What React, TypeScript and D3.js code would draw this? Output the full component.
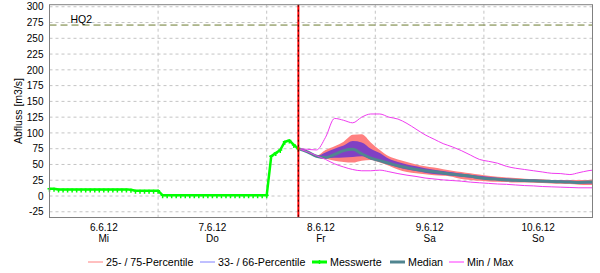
import React from "react";
import * as d3 from "d3";

// ---- data ----
const START = new Date(2012, 5, 6, 0, 0);
const END = new Date(2012, 5, 11, 0, 0);
const NOW = new Date(2012, 5, 8, 7, 0);
const HQ2 = 271;

const Y_TICKS = [-25, 0, 25, 50, 75, 100, 125, 150, 175, 200, 225, 250, 275, 300];
const DAY_LABELS = ["6.6.12", "7.6.12", "8.6.12", "9.6.12", "10.6.12"];
const WEEKDAYS = ["Mi", "Do", "Fr", "Sa", "So"];

// hourly measured values from 6.6.12 00:00
const measured = [
  11.5, 11.5, 10.5, 10.5, 10.5, 10.5, 10.5, 10.5, 10.5, 10.5, 10.5, 10.5, 10.5, 10.5, 10.5, 10.5, 10.5, 10.5, 10, 8.5, 8.5, 8.5, 8.5, 8.5,
  8.5, 1, 1, 1, 1, 1, 1, 1, 1, 1, 1, 1, 1, 1, 1, 1, 1, 1, 1, 1, 1, 1, 1, 1,
  1, 63, 68, 73, 86, 88, 81, 75,
];

// forecast: hours after 8.6.12 07:00
const fcHours = [0, 2, 4, 6, 8, 10, 12, 14, 16, 18, 20, 22, 24, 26, 28, 30, 32, 34, 36, 38, 40, 42, 44, 46, 48, 50, 52, 54, 56, 58, 60, 62, 64, 65];
const fcMax = [75, 74, 73, 93, 123, 120, 116, 125, 130, 130, 125, 122, 115, 106, 97, 90, 83, 78, 72, 65, 58, 55, 52, 47, 44, 42, 40, 38, 36, 35.5, 34, 37, 40, 41];
const fcMin = [75, 70, 64, 58, 51, 46, 42, 40, 40, 41, 38.5, 35.5, 33, 31, 28.5, 27, 25.5, 24.5, 23.5, 22, 21, 20, 19, 18.5, 17.5, 16.5, 16, 15, 14.5, 14, 13.5, 13, 13, 13];
const fcMedian = [75, 70, 63, 61, 66, 72, 74, 67, 60, 56, 52, 48, 45, 42, 40, 38.5, 36.5, 34.5, 33, 31.5, 29, 27.5, 26.5, 25.5, 25, 24.5, 24, 23.5, 23, 22.5, 22, 21.5, 22, 22];
const fcP25 = [75, 70, 62, 59, 56, 54, 53, 56, 57, 53, 48, 42, 38, 36, 34.5, 33, 32, 30.6, 27, 25.5, 24, 23, 22.5, 22, 21.5, 21.5, 21, 20.5, 20, 19.5, 19, 18, 17.5, 17.5];
const fcP33 = [75, 70, 62.5, 60, 60.5, 61, 62, 63, 58, 54.5, 49.5, 45.5, 42, 39.5, 37, 35, 33.5, 32, 30.5, 29, 27.5, 26, 25, 24, 23.5, 23, 22.5, 22, 21.5, 21, 20.5, 20, 20, 20];
const fcP66 = [75, 70, 63.5, 69, 75, 80, 87, 85, 75, 68, 59, 54, 50, 47, 44, 41.5, 39.5, 37.5, 35.5, 33.5, 32, 30.5, 29, 28, 27, 26.5, 26, 25.5, 25, 24.5, 24, 23.5, 23.5, 23.5];
const fcP75 = [75, 70, 64, 73, 79, 86, 97, 98, 85, 73, 63, 58, 54, 50, 47, 45, 42.5, 40, 38, 36, 34, 32, 30.5, 29.5, 28.5, 27.5, 27, 26.5, 25.5, 25.5, 25.5, 25.5, 25.5, 26];

const LEGEND = [
  { label: "25- / 75-Percentile", color: "#ff8080", width: 1, marker: false },
  { label: "33- / 66-Percentile", color: "#8080ff", width: 1, marker: false },
  { label: "Messwerte", color: "#00ff00", width: 3, marker: true },
  { label: "Median", color: "#508590", width: 3, marker: false },
  { label: "Min / Max", color: "#ff33ff", width: 1, marker: false },
];

const FONT = "'Liberation Sans', Arial, sans-serif";

export default function App() {
  const W = 600, H = 273;
  const L = 49.5, R = 592.5, T = 4.7, B = 217.5;
  const x = d3.scaleTime().domain([START, END]).range([L, R]);
  const y = d3.scaleLinear().domain([0, 250]).range([196, 38.3]);

  const hour = 3600 * 1000;
  const mPts = measured.map((v, i) => ({ t: new Date(START.getTime() + i * hour), v }));
  const fc = fcHours.map((h, i) => ({
    t: new Date(NOW.getTime() + h * hour),
    max: fcMax[i], min: fcMin[i], med: fcMedian[i],
    p25: fcP25[i], p33: fcP33[i], p66: fcP66[i], p75: fcP75[i],
  }));

  const curve = d3.curveMonotoneX;
  const area2575 = d3.area<any>().x(d => x(d.t)).y0(d => y(d.p25)).y1(d => y(d.p75)).curve(curve)(fc) || "";
  const area3366 = d3.area<any>().x(d => x(d.t)).y0(d => y(d.p33)).y1(d => y(d.p66)).curve(curve)(fc) || "";
  const lineOf = (key: string) => d3.line<any>().x(d => x(d.t)).y(d => y(d[key])).curve(curve)(fc) || "";
  const mLine = d3.line<any>().x(d => x(d.t)).y(d => y(d.v))(mPts) || "";

  const days = d3.timeDay.range(START, d3.timeDay.offset(END, 1));
  const midDays = d3.timeDay.range(START, END);

  const legendX = [88, 200, 312, 390, 449];

  return (
    <svg width={W} height={H} style={{ position: "absolute", left: 0, top: 0, background: "#fff" }} fontFamily={FONT}>
      <rect x={0} y={0} width={W} height={H} fill="#fff" />
      {/* grid */}
      {Y_TICKS.map(v => (
        <line key={"gy" + v} x1={L} x2={R} y1={y(v)} y2={y(v)} stroke="#c4c4c4" strokeDasharray="3,3" />
      ))}
      {days.map((d, i) => (
        <line key={"gx" + i} x1={x(d)} x2={x(d)} y1={T} y2={B + 3} stroke="#c4c4c4" strokeDasharray="3,3" />
      ))}
      {/* HQ2 */}
      <line x1={L} x2={R} y1={y(HQ2)} y2={y(HQ2)} stroke="#6b7a2e" strokeDasharray="7,4" strokeWidth={1} />
      <text x={70.5} y={22.5} fontSize={10.5} fill="#000">HQ2</text>

      {/* forecast */}
      <path d={area2575} fill="#ff8080" />
      <path d={area3366} fill="#8040c4" />
      <path d={lineOf("med")} fill="none" stroke="#508590" strokeWidth={3} />
      <path d={lineOf("max")} fill="none" stroke="#f03cf0" strokeWidth={1} />
      <path d={lineOf("min")} fill="none" stroke="#f03cf0" strokeWidth={1} />

      {/* measured */}
      <path d={mLine} fill="none" stroke="#00ff00" strokeWidth={2.5} />
      {mPts.map((p, i) => (
        <path key={"mk" + i} d={`M${x(p.t) - 2},${y(p.v)}h4M${x(p.t)},${y(p.v) - 1}v4`} stroke="#00ff00" strokeWidth={1.5} />
      ))}

      {/* now line */}
      <line x1={x(NOW)} x2={x(NOW)} y1={T} y2={B} stroke="#ff0000" strokeWidth={2} />
      <line x1={x(NOW)} x2={x(NOW)} y1={T} y2={B} stroke="#000" strokeWidth={0.8} strokeDasharray="2,3" />

      {/* frame */}
      <rect x={L} y={T} width={R - L} height={B - T} fill="none" stroke="#808080" strokeWidth={1} />

      {/* y ticks */}
      {Y_TICKS.map(v => (
        <text key={"yt" + v} x={43.5} y={y(v) + 3.7} fontSize={10} textAnchor="end" fill="#000">{v}</text>
      ))}
      <text transform={`translate(22,111) rotate(-90)`} fontSize={10.5} textAnchor="middle" fill="#000">Abfluss [m3/s]</text>

      {/* x labels */}
      {midDays.map((d, i) => {
        const cx = x(d3.timeHour.offset(d, 12));
        return (
          <g key={"xl" + i}>
            <text x={cx} y={231} fontSize={10} textAnchor="middle" fill="#000">{DAY_LABELS[i]}</text>
            <text x={cx} y={242} fontSize={10} textAnchor="middle" fill="#000">{WEEKDAYS[i]}</text>
          </g>
        );
      })}

      {/* legend */}
      {LEGEND.map((it, i) => (
        <g key={"lg" + i}>
          <line x1={legendX[i]} x2={legendX[i] + 15} y1={262} y2={262} stroke={it.color} strokeWidth={it.width} />
          {it.marker && <path d={`M${legendX[i] + 7.5 - 2},262h4M${legendX[i] + 7.5},260v4`} stroke={it.color} strokeWidth={1.5} />}
          <text x={legendX[i] + 18} y={265.8} fontSize={10.7} fill="#000">{it.label}</text>
        </g>
      ))}
    </svg>
  );
}
